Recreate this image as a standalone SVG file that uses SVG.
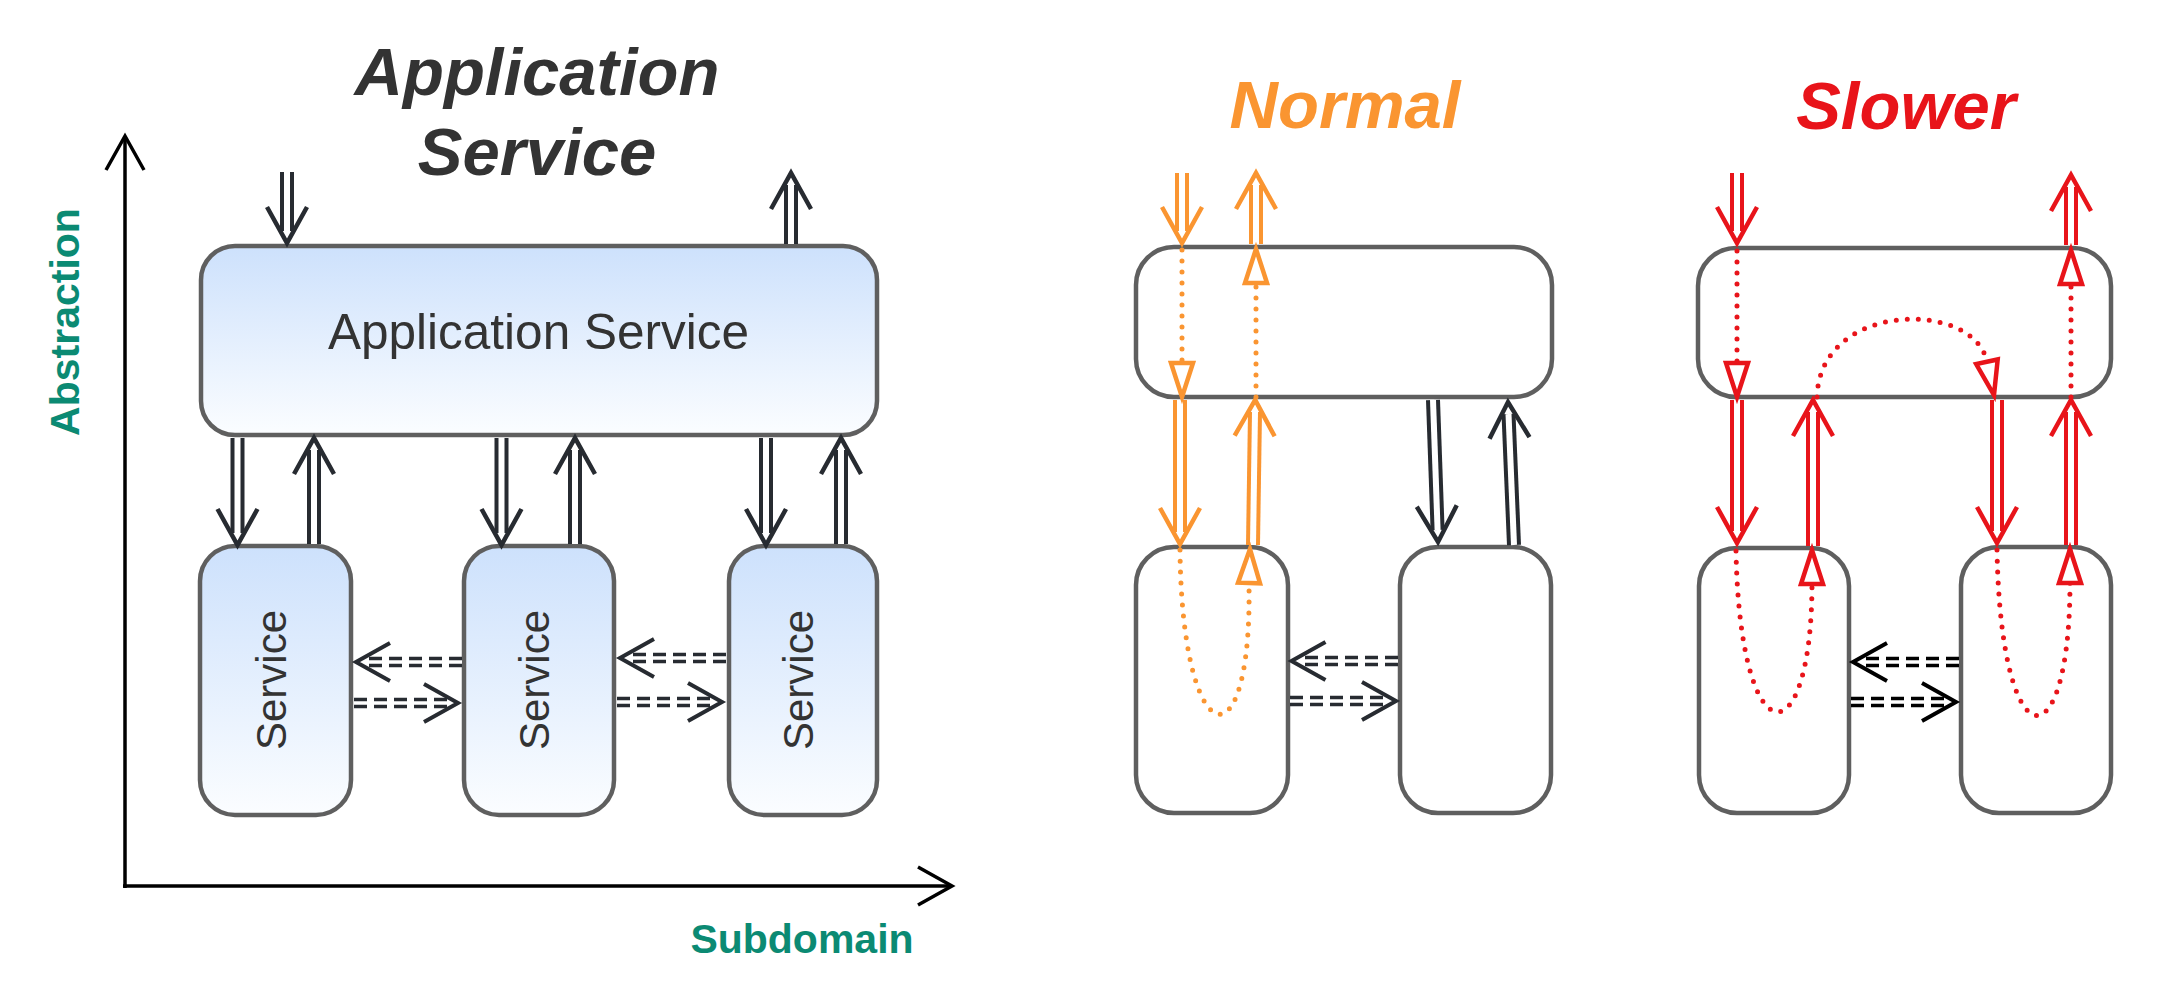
<svg xmlns="http://www.w3.org/2000/svg" width="2164" height="1007" viewBox="0 0 2164 1007">
<style>
.bg{fill:#ffffff}
.box{stroke:#5f5f5f;stroke-width:4.5}
.blue{fill:url(#blueGrad)}
.white{fill:#ffffff}
.title{font-family:"Liberation Sans",Arial,sans-serif;font-weight:bold;font-style:italic;font-size:67px;text-anchor:middle}
.lbl{font-family:"Liberation Sans",Arial,sans-serif;fill:#333333;text-anchor:middle}
.axislbl{font-family:"Liberation Sans",Arial,sans-serif;font-weight:bold;font-size:41px;fill:#0b8a73;text-anchor:middle}
.axis{fill:none;stroke:#000000;stroke-width:3.5}
.dO{fill:none;stroke-width:14;stroke-linecap:butt}
.dI{fill:none;stroke:#ffffff;stroke-width:6;stroke-linecap:butt}
.sO{fill:none;stroke-width:10.5;stroke-dasharray:13 7;stroke-linecap:butt}
.sI{fill:none;stroke:#ffffff;stroke-width:3.5;stroke-dasharray:13 7;stroke-linecap:butt}
.dot{fill:none;stroke-width:5;stroke-dasharray:0 11;stroke-linecap:round}
.dark{stroke:#272b31}
.blk{stroke:#000000}
.org{stroke:#fa9531}
.red{stroke:#e8141a}
</style>
<defs>
<linearGradient id="blueGrad" x1="0" y1="0" x2="0" y2="1">
<stop offset="0" stop-color="#cde1fc"/>
<stop offset="1" stop-color="#fbfdff"/>
</linearGradient>
<marker id="chevDark" markerUnits="userSpaceOnUse" viewBox="-40 -25 45 50" markerWidth="45" markerHeight="50" refX="-12" refY="0" orient="auto" overflow="visible">
<path d="M-36,-20 L0,0 L-36,20" fill="none" stroke="#272b31" stroke-width="4.5"/>
</marker>
<marker id="chevOrg" markerUnits="userSpaceOnUse" viewBox="-40 -25 45 50" markerWidth="45" markerHeight="50" refX="-12" refY="0" orient="auto" overflow="visible">
<path d="M-36,-20 L0,0 L-36,20" fill="none" stroke="#fa9531" stroke-width="4.5"/>
</marker>
<marker id="chevRed" markerUnits="userSpaceOnUse" viewBox="-40 -25 45 50" markerWidth="45" markerHeight="50" refX="-12" refY="0" orient="auto" overflow="visible">
<path d="M-36,-20 L0,0 L-36,20" fill="none" stroke="#e8141a" stroke-width="4.5"/>
</marker>
<marker id="dchevDark" markerUnits="userSpaceOnUse" viewBox="-40 -25 45 50" markerWidth="45" markerHeight="50" refX="-9" refY="0" orient="auto" overflow="visible">
<path d="M-34,-19 L0,0 L-34,19" fill="none" stroke="#272b31" stroke-width="4"/>
</marker>
<marker id="dchevBlk" markerUnits="userSpaceOnUse" viewBox="-40 -25 45 50" markerWidth="45" markerHeight="50" refX="-9" refY="0" orient="auto" overflow="visible">
<path d="M-34,-19 L0,0 L-34,19" fill="none" stroke="#000000" stroke-width="4"/>
</marker>
<marker id="axisHead" markerUnits="userSpaceOnUse" viewBox="-40 -25 45 50" markerWidth="45" markerHeight="50" refX="0" refY="0" orient="auto" overflow="visible">
<path d="M-34,-19 L0,0 L-34,19" fill="none" stroke="#000000" stroke-width="3.5"/>
</marker>
<marker id="triOrg" markerUnits="userSpaceOnUse" viewBox="-40 -16 45 32" markerWidth="45" markerHeight="32" refX="0" refY="0" orient="auto" overflow="visible">
<path d="M0,0 L-34,-11 L-34,11 Z" fill="#ffffff" stroke="#fa9531" stroke-width="4.5"/>
</marker>
<marker id="triRed" markerUnits="userSpaceOnUse" viewBox="-40 -16 45 32" markerWidth="45" markerHeight="32" refX="0" refY="0" orient="auto" overflow="visible">
<path d="M0,0 L-34,-11 L-34,11 Z" fill="#ffffff" stroke="#e8141a" stroke-width="4.5"/>
</marker>
</defs>
<rect class="bg" x="0" y="0" width="2164" height="1007"/>

<!-- Titles and axis labels -->
<g id="titles">
<text class="title" x="537" y="95" fill="#333333">Application</text>
<text class="title" x="537" y="175" fill="#333333">Service</text>
<text class="title" x="1345" y="128" fill="#fa9531">Normal</text>
<text class="title" x="1906" y="129" fill="#e8141a">Slower</text>
<text class="axislbl" x="64" y="337" transform="rotate(-90 64 322)">Abstraction</text>
<text class="axislbl" x="802" y="953">Subdomain</text>
</g>

<!-- Left panel nodes -->
<g id="app-service">
<rect class="box blue" x="201" y="246" width="676" height="189" rx="34" ry="34"/>
<text class="lbl" x="538.5" y="349" font-size="49.5">Application Service</text>
</g>
<g id="service-1">
<rect class="box blue" x="200" y="546" width="151" height="269" rx="35" ry="35"/>
<text class="lbl" x="271" y="695" font-size="42" transform="rotate(-90 271 680)">Service</text>
</g>
<g id="service-2">
<rect class="box blue" x="464" y="546" width="150" height="269" rx="35" ry="35"/>
<text class="lbl" x="534" y="695" font-size="42" transform="rotate(-90 534 680)">Service</text>
</g>
<g id="service-3">
<rect class="box blue" x="729" y="546" width="148" height="269" rx="35" ry="35"/>
<text class="lbl" x="798" y="695" font-size="42" transform="rotate(-90 798 680)">Service</text>
</g>

<!-- Normal panel nodes -->
<g id="normal-app">
<rect class="box white" x="1136" y="247" width="416" height="150" rx="38" ry="38"/>
</g>
<g id="normal-service-1">
<rect class="box white" x="1136" y="547" width="152" height="266" rx="38" ry="38"/>
</g>
<g id="normal-service-2">
<rect class="box white" x="1400" y="547" width="151" height="266" rx="38" ry="38"/>
</g>

<!-- Slower panel nodes -->
<g id="slower-app">
<rect class="box white" x="1698" y="248" width="413" height="149" rx="38" ry="38"/>
</g>
<g id="slower-service-1">
<rect class="box white" x="1699" y="548" width="150" height="265" rx="38" ry="38"/>
</g>
<g id="slower-service-2">
<rect class="box white" x="1961" y="547" width="150" height="266" rx="38" ry="38"/>
</g>

<g id="connectors">
<!-- axes -->
<path class="axis" d="M125,888 L125,136" marker-end="url(#axisHead)"/>
<path class="axis" d="M123,886 L952,886" marker-end="url(#axisHead)"/>

<!-- Left panel double arrows -->
<path class="dO dark" d="M287,172 L287,231"/><path class="dI" d="M287,172 L287,231" marker-end="url(#chevDark)"/>
<path class="dO dark" d="M791,244 L791,185"/><path class="dI" d="M791,244 L791,185" marker-end="url(#chevDark)"/>
<path class="dO dark" d="M237.5,438 L237.5,533"/><path class="dI" d="M237.5,438 L237.5,533" marker-end="url(#chevDark)"/>
<path class="dO dark" d="M501.5,438 L501.5,533"/><path class="dI" d="M501.5,438 L501.5,533" marker-end="url(#chevDark)"/>
<path class="dO dark" d="M766,438 L766,533"/><path class="dI" d="M766,438 L766,533" marker-end="url(#chevDark)"/>
<path class="dO dark" d="M314,544 L314,450"/><path class="dI" d="M314,544 L314,450" marker-end="url(#chevDark)"/>
<path class="dO dark" d="M575,544 L575,450"/><path class="dI" d="M575,544 L575,450" marker-end="url(#chevDark)"/>
<path class="dO dark" d="M841,544 L841,450"/><path class="dI" d="M841,544 L841,450" marker-end="url(#chevDark)"/>

<!-- Left panel dashed arrows -->
<path class="sO dark" d="M462,662 L365,662"/><path class="sI" d="M462,662 L365,662" marker-end="url(#dchevDark)"/>
<path class="sO dark" d="M354,703 L449,703"/><path class="sI" d="M354,703 L449,703" marker-end="url(#dchevDark)"/>
<path class="sO dark" d="M726,658 L629,658"/><path class="sI" d="M726,658 L629,658" marker-end="url(#dchevDark)"/>
<path class="sO dark" d="M617,702 L713,702"/><path class="sI" d="M617,702 L713,702" marker-end="url(#dchevDark)"/>

<!-- Normal panel -->
<path class="dO org" d="M1182,173 L1182,231"/><path class="dI" d="M1182,173 L1182,231" marker-end="url(#chevOrg)"/>
<path class="dO org" d="M1256,244 L1256,185"/><path class="dI" d="M1256,244 L1256,185" marker-end="url(#chevOrg)"/>
<path class="dO org" d="M1180,400 L1180,532"/><path class="dI" d="M1180,400 L1180,532" marker-end="url(#chevOrg)"/>
<path class="dO org" d="M1253,545 L1255,412"/><path class="dI" d="M1253,545 L1255,412" marker-end="url(#chevOrg)"/>
<path class="dO dark" d="M1433,400 L1437.6,530"/><path class="dI" d="M1433,400 L1437.6,530" marker-end="url(#chevDark)"/>
<path class="dO dark" d="M1514,545 L1508.5,414"/><path class="dI" d="M1514,545 L1508.5,414" marker-end="url(#chevDark)"/>
<path class="dot org" d="M1182,250 L1182,397" marker-end="url(#triOrg)"/>
<path class="dot org" d="M1256,397 L1256,249" marker-end="url(#triOrg)"/>
<path class="dot org" d="M1180,550 C1182,755 1252,770 1249,585 L1250,549" marker-end="url(#triOrg)"/>
<path class="sO dark" d="M1398,661 L1300.5,661"/><path class="sI" d="M1398,661 L1300.5,661" marker-end="url(#dchevDark)"/>
<path class="sO dark" d="M1290,701 L1387,701"/><path class="sI" d="M1290,701 L1387,701" marker-end="url(#dchevDark)"/>

<!-- Slower panel -->
<path class="dO red" d="M1737,173 L1737,231"/><path class="dI" d="M1737,173 L1737,231" marker-end="url(#chevRed)"/>
<path class="dO red" d="M2071,245 L2071,187"/><path class="dI" d="M2071,245 L2071,187" marker-end="url(#chevRed)"/>
<path class="dO red" d="M1737,400 L1737,531"/><path class="dI" d="M1737,400 L1737,531" marker-end="url(#chevRed)"/>
<path class="dO red" d="M1813,546 L1813,412"/><path class="dI" d="M1813,546 L1813,412" marker-end="url(#chevRed)"/>
<path class="dO red" d="M1997,400 L1997,531"/><path class="dI" d="M1997,400 L1997,531" marker-end="url(#chevRed)"/>
<path class="dO red" d="M2071,545 L2071,412"/><path class="dI" d="M2071,545 L2071,412" marker-end="url(#chevRed)"/>
<path class="dot red" d="M1737,251 L1737,397" marker-end="url(#triRed)"/>
<path class="dot red" d="M2071,397 L2071,250" marker-end="url(#triRed)"/>
<path class="dot red" d="M1817,397 C1820,300 1975,300 1987,362 L1994,395" marker-end="url(#triRed)"/>
<path class="dot red" d="M1736,551 C1740,760 1812,760 1812,582 L1812,550" marker-end="url(#triRed)"/>
<path class="dot red" d="M1997,550 C2001,765 2070,765 2070,582 L2070,549" marker-end="url(#triRed)"/>
<path class="sO blk" d="M1959,662 L1862,662"/><path class="sI" d="M1959,662 L1862,662" marker-end="url(#dchevBlk)"/>
<path class="sO blk" d="M1851,702 L1947,702"/><path class="sI" d="M1851,702 L1947,702" marker-end="url(#dchevBlk)"/>
</g>
</svg>
